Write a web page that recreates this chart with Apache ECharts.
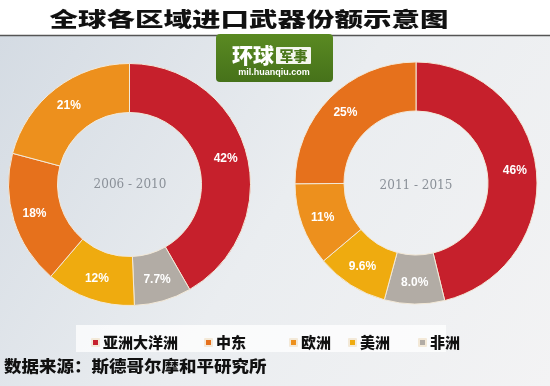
<!DOCTYPE html>
<html><head><meta charset="utf-8">
<script src="https://cdn.jsdelivr.net/npm/echarts@6/dist/echarts.min.js"></script>
<style>html,body{margin:0;padding:0;background:#fff}#c{width:550px;height:386px}</style>
</head><body><div id="c"></div>
<script>
var titleText = '全球各区域进口武器份额示意图';
var sourceText = '数据来源：斯德哥尔摩和平研究所';
var regions = ['亚洲大洋洲', '中东', '欧洲', '美洲', '非洲'];
var regionColors = {'亚洲大洋洲':'#c6202c','中东':'#e6711c','欧洲':'#ed901d','美洲':'#efab0f','非洲':'#b2aca5'};
var period1 = '2006 - 2010';
var period1Names = ['亚洲大洋洲', '非洲', '美洲', '中东', '欧洲'];
var period1Values = [42, 7.7, 12, 18, 21];
var period2 = '2011 - 2015';
var period2Names = ['亚洲大洋洲', '非洲', '美洲', '欧洲', '中东'];
var period2Values = [46, 8.0, 9.6, 11, 25];

function mk(names, vals){
  return names.map(function(n,i){return {name:n, value:vals[i], itemStyle:{color:regionColors[n]}};});
}
function fmt(p){var v=p.value; return (v>=10? String(Math.round(v)) : v.toFixed(1)) + '%';}
var pieCommon = {
  type:'pie', radius:[72,121], startAngle:90, clockwise:true, silent:true,
  itemStyle:{borderColor:'#f3e9d8', borderWidth:1},
  label:{show:true, position:'inside', formatter:fmt, color:'#fff', fontSize:12, fontWeight:'bold', fontFamily:'Liberation Sans'},
  labelLine:{show:false}, emphasis:{disabled:true}, animation:false
};
var legendX = [86, 199, 284, 343, 413];
var legendOrder = ['亚洲大洋洲','中东','欧洲','美洲','非洲'];
var legends = legendOrder.map(function(n,i){
  return {left:legendX[i], top:330, data:[n], selectedMode:false, icon:'rect', itemWidth:7, itemHeight:7, itemGap:0,
    textStyle:{color:'#111', fontSize:15, fontWeight:900, fontFamily:'Noto Sans CJK SC', padding:[0,0,0,-1]}};
});
var chart = echarts.init(document.getElementById('c'), null, {renderer:'canvas'});
chart.setOption({
  animation:false,
  legend:legends,
  graphic:[
    {type:'rect', z:-10, shape:{x:0,y:35,width:550,height:351}, style:{fill:{type:'linear',x:0,y:0,x2:1,y2:1,colorStops:[{offset:0,color:'#d4dbe3'},{offset:0.5,color:'#eaedf0'},{offset:1,color:'#f3f3f4'}]}}},
    {type:'line', z:-5, shape:{x1:0,y1:35.5,x2:550,y2:35.5}, style:{stroke:'#555', lineWidth:1.5}},
    {type:'text', z:5, x:249, y:19, scaleY:0.72, style:{text:titleText, fill:'#111', fontSize:28.5, fontWeight:900, fontFamily:'Noto Sans CJK SC', align:'center', verticalAlign:'middle'}},
    {type:'rect', z:-4, shape:{x:76,y:325,width:370,height:27}, style:{fill:'rgba(255,255,255,0.75)'}},
    {type:'rect', z:5, shape:{x:216,y:34,width:117,height:48,r:4}, style:{fill:{type:'linear',x:0,y:0,x2:0,y2:1,colorStops:[{offset:0,color:'#5a8a22'},{offset:1,color:'#46721a'}]}}},
    {type:'text', z:6, x:253, y:55, style:{text:'环球', fill:'#fff', fontSize:21, fontWeight:900, fontFamily:'Noto Sans CJK SC', align:'center', verticalAlign:'middle'}},
    {type:'rect', z:6, shape:{x:276,y:47,width:35,height:17,r:1}, style:{fill:'#f4f6ef'}},
    {type:'text', z:7, x:293.5, y:55.5, style:{text:'军事', fill:'#4b781c', fontSize:14, fontWeight:900, fontFamily:'Noto Sans CJK SC', align:'center', verticalAlign:'middle'}},
    {type:'text', z:7, x:274, y:72.5, style:{text:'mil.huanqiu.com', fill:'#fff', fontSize:9, fontWeight:'bold', fontFamily:'Liberation Sans', align:'center', verticalAlign:'middle'}},
    {type:'text', z:3, x:130, y:185, style:{text:period1, fill:'#8a9098', fontSize:12, fontFamily:'DejaVu Serif', align:'center', verticalAlign:'middle'}},
    {type:'text', z:3, x:416, y:185.5, style:{text:period2, fill:'#8a9098', fontSize:12, fontFamily:'DejaVu Serif', align:'center', verticalAlign:'middle'}},
    {type:'text', z:3, x:4, y:366, scaleY:0.9, style:{text:sourceText, fill:'#111', fontSize:17.5, fontWeight:900, fontFamily:'Noto Sans CJK SC', verticalAlign:'middle'}}
  ],
  series:[
    Object.assign({}, pieCommon, {name:period1, center:[129.5,184.5], data:mk(period1Names, period1Values)}),
    Object.assign({}, pieCommon, {name:period2, center:[416,183], data:mk(period2Names, period2Values)})
  ]
});
</script></body></html>
